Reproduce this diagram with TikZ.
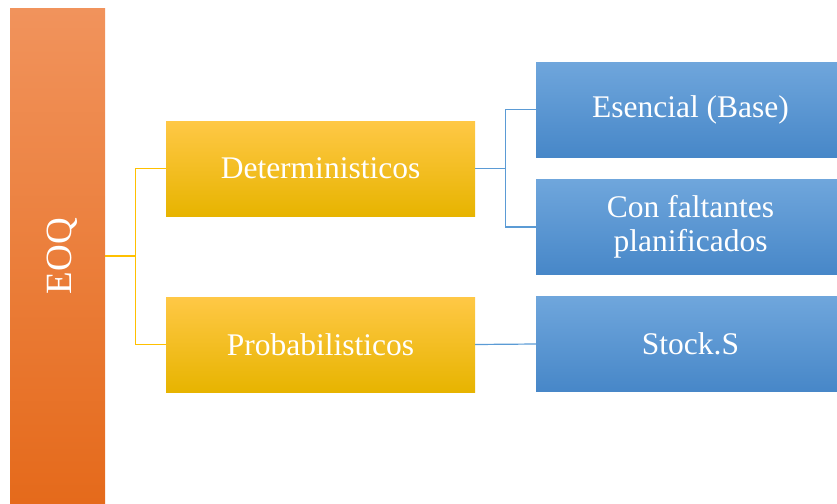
\documentclass[tikz,border=0pt]{standalone}
\usepackage{fontspec}
\setmainfont{Liberation Serif}
\definecolor{orTop}{HTML}{F1935C}
\definecolor{orMid}{HTML}{F5822F}
\definecolor{orBot}{HTML}{E56A1B}
\definecolor{yeTop}{HTML}{FFC846}
\definecolor{yeMid}{HTML}{FFC600}
\definecolor{yeBot}{HTML}{E7B400}
\definecolor{blTop}{HTML}{6FA6DC}
\definecolor{blMid}{HTML}{5B9BD8}
\definecolor{blBot}{HTML}{4787C8}
\definecolor{yeLine}{HTML}{FFC000}
\definecolor{blLine}{HTML}{5B9BD5}
\begin{document}
\begin{tikzpicture}[x=1pt,y=-1pt,
  box/.style={rectangle, inner sep=0pt, text=white, align=center,
    font=\fontsize{31.5}{34}\selectfont},
  orbox/.style={box, top color=orTop, middle color=orMid, bottom color=orBot,
    minimum width=95pt, minimum height=494pt, font=\fontsize{37}{40}\selectfont},
  yebox/.style={box, top color=yeTop, middle color=yeMid, bottom color=yeBot,
    minimum width=309pt, minimum height=95pt},
  blbox/.style={box, top color=blTop, middle color=blMid, bottom color=blBot,
    minimum width=309pt, minimum height=95pt},
  yecon/.style={draw=yeLine, line width=1.2pt},
  blcon/.style={draw=blLine, line width=1.2pt}]
\useasboundingbox (0,0) rectangle (837,503);
\clip (0,0) rectangle (837,503);
\node[orbox] (eoq) at (57.5,256) {\rotatebox{90}{\raisebox{-5pt}[\height][\depth]{EOQ}}};
\node[yebox] (det) at (320.5,168.5) {Deterministicos};
\node[yebox] (prob) at (320.5,344.5) {Probabilisticos};
\node[blbox] (ese) at (690.5,109.5) {Esencial (Base)};
\node[blbox] (con) at (690.5,227) {Con faltantes\\planificados};
\node[blbox] (stock) at (690.5,344) {Stock.S};
\draw[yecon] (eoq.east) -- ++(30,0) |- (det.west);
\draw[yecon] (eoq.east) -- ++(30,0) |- (prob.west);
\draw[blcon] (det.east) -- ++(30,0) |- (ese.west);
\draw[blcon] (det.east) -- ++(30,0) |- (con.west);
\draw[blcon] (prob.east) -- (stock.west);
\end{tikzpicture}
\end{document}
